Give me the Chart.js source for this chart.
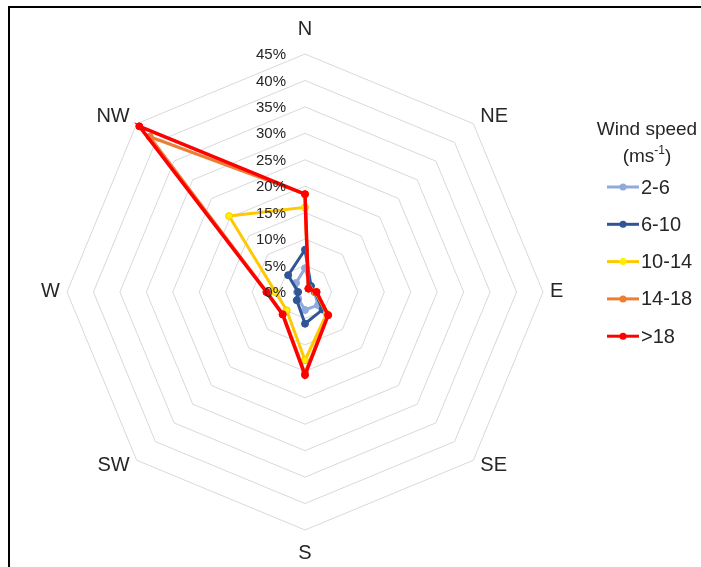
<!DOCTYPE html>
<html>
<head>
<meta charset="utf-8">
<script src="https://cdn.jsdelivr.net/npm/chart.js@4.4.1/dist/chart.umd.min.js"></script>
<style>
  html, body { margin: 0; padding: 0; background: #fff; }
  #wrap { position: relative; width: 701px; height: 567px; overflow: hidden; }
</style>
</head>
<body>
<div id="wrap"><canvas id="c" width="701" height="567"></canvas></div>
<script>
// Directions (categories)
const directions = ['N', 'NE', 'E', 'SE', 'S', 'SW', 'W', 'NW'];
// Series (percent frequency) per wind-speed class, order N..NW
const speed_2_6   = [4.5, 1.5, 1.8, 3.5, 3.4, 1.8, 1.5, 2.4];
const speed_6_10  = [8.0, 1.6, 1.9, 4.7, 6.0, 2.2, 1.3, 4.5];
const speed_10_14 = [16.0, 1.0, 2.0, 5.8, 12.9, 4.9, 5.6, 20.3];
const speed_14_18 = [18.5, 0.9, 2.1, 6.1, 15.3, 5.9, 7.2, 41.5];
const speed_gt18  = [18.5, 0.9, 2.2, 6.2, 15.7, 6.0, 7.3, 44.3];
const seriesNames = ['2-6', '6-10', '10-14', '14-18', '>18'];
// Radial tick labels
const tickValues = [0, 5, 10, 15, 20, 25, 30, 35, 40, 45];
const tickLabels = ['0%', '5%', '10%', '15%', '20%', '25%', '30%', '35%', '40%', '45%'];
const legendTitle = ['Wind speed', '(ms', '-1', ')'];

const colors = {
  line:  ['#8FAADC', '#2F5597', '#FFC800', '#ED7D31', '#FF0000'],
  point: ['#8FAADC', '#2F5597', '#FFF000', '#ED7D31', '#FF0000']
};
const seriesData = [speed_2_6, speed_6_10, speed_10_14, speed_14_18, speed_gt18];
const drawOrder = [4, 3, 2, 1, 0]; // lower = on top

const datasets = seriesData.map((d, i) => ({
  label: seriesNames[i],
  data: d,
  borderColor: colors.line[i],
  backgroundColor: colors.point[i],
  pointBackgroundColor: colors.point[i],
  pointBorderColor: colors.line[i],
  pointBorderWidth: 1,
  pointRadius: 3.5,
  borderWidth: i === 4 ? 3.5 : 3,
  fill: false,
  tension: 0,
  order: drawOrder[i]
}));

const TEXT = '#262626';
const FONT = '"Liberation Sans", Arial, sans-serif';

const decorPlugin = {
  id: 'decor',
  beforeDraw(chart) {
    const ctx = chart.ctx;
    ctx.save();
    ctx.fillStyle = '#fff';
    ctx.fillRect(0, 0, chart.width, chart.height);
    ctx.restore();
  },
  afterDraw(chart) {
    const ctx = chart.ctx;
    const r = chart.scales.r;
    ctx.save();
    // tick labels, right-aligned left of the N axis
    ctx.font = '15px ' + FONT;
    ctx.fillStyle = TEXT;
    ctx.textAlign = 'right';
    ctx.textBaseline = 'middle';
    tickValues.forEach((v, i) => {
      const d = r.getDistanceFromCenterForValue(v);
      ctx.fillText(tickLabels[i], r.xCenter - 19, r.yCenter - d + 1);
    });
    // point labels, anchored outside the outer ring vertex
    ctx.font = '20px ' + FONT;
    ctx.textAlign = 'center';
    directions.forEach((lab, i) => {
      const p = r.getPointPosition(i, r.drawingArea);
      const c = (p.x - r.xCenter) / r.drawingArea;
      const s = (p.y - r.yCenter) / r.drawingArea;
      const w = ctx.measureText(lab).width;
      let x = p.x, y = p.y;
      if (Math.abs(c) > 0.01) x += Math.sign(c) * (w / 2 + 7);
      if (Math.abs(s) > 0.9) y += Math.sign(s) * 24;
      else if (Math.abs(s) > 0.01) y += Math.sign(s) * 6;
      ctx.fillText(lab, x, y - 1);
    });
    // legend
    const lx = 647;
    ctx.font = '19px ' + FONT;
    ctx.textAlign = 'center';
    ctx.fillText(legendTitle[0], lx, 130);
    // (ms^-1)
    const f1 = '19px ' + FONT, f2 = '12px ' + FONT;
    ctx.font = f1; const w1 = ctx.measureText(legendTitle[1]).width;
    const w3 = ctx.measureText(legendTitle[3]).width;
    ctx.font = f2; const w2 = ctx.measureText(legendTitle[2]).width;
    let x0 = lx - (w1 + w2 + w3) / 2;
    ctx.textAlign = 'left';
    ctx.font = f1; ctx.fillText(legendTitle[1], x0, 157);
    ctx.font = f2; ctx.fillText(legendTitle[2], x0 + w1, 151);
    ctx.font = f1; ctx.fillText(legendTitle[3], x0 + w1 + w2, 157);
    chart.data.datasets.forEach((ds, i) => {
      const y = 187 + i * 37.3;
      ctx.strokeStyle = ds.borderColor;
      ctx.lineWidth = 3;
      ctx.beginPath(); ctx.moveTo(607, y); ctx.lineTo(639, y); ctx.stroke();
      ctx.fillStyle = ds.pointBackgroundColor;
      ctx.beginPath(); ctx.arc(623, y, 3.5, 0, Math.PI * 2); ctx.fill();
      ctx.fillStyle = TEXT;
      ctx.font = '20px ' + FONT;
      ctx.textBaseline = 'middle';
      ctx.fillText(ds.label, 641, y + 1);
    });
    // frame
    ctx.strokeStyle = '#000';
    ctx.lineWidth = 2;
    ctx.strokeRect(9, 7, 1000, 1000);
    ctx.restore();
  }
};

new Chart(document.getElementById('c'), {
  type: 'radar',
  data: { labels: directions, datasets },
  options: {
    responsive: false,
    animation: false,
    layout: { padding: { left: 67, right: 158, top: 54, bottom: 37 } },
    plugins: { legend: { display: false }, tooltip: { enabled: false } },
    scales: {
      r: {
        min: 0, max: 45,
        ticks: { display: false, stepSize: 5 },
        grid: { circular: false, color: '#D9D9D9', lineWidth: 1 },
        angleLines: { display: false },
        pointLabels: { display: false }
      }
    }
  },
  plugins: [decorPlugin]
});
</script>
</body>
</html>
